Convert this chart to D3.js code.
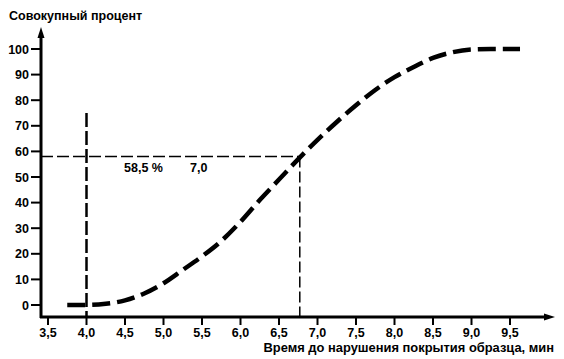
<!DOCTYPE html>
<html><head><meta charset="utf-8">
<script src="https://cdn.jsdelivr.net/npm/d3@7"></script>
<style>
html,body{margin:0;padding:0;background:#fff;}
text{font-family:"Liberation Sans",Arial,sans-serif;fill:#000;font-weight:bold;}
</style>
</head><body>
<svg id="c" width="564" height="359"></svg>
<script>
const xTicks = [3.5,4.0,4.5,5.0,5.5,6.0,6.5,7.0,7.5,8.0,8.5,9.0,9.5];
const yTicks = [0,10,20,30,40,50,60,70,80,90,100];
const curveX = [3.75,4.0,4.25,4.5,4.75,5.0,5.25,5.5,5.75,6.0,6.25,6.5,6.75,7.0,7.25,7.5,7.75,8.0,8.25,8.5,8.75,9.0,9.25,9.63];
const curveY = [0,0,0.5,1.8,4.5,8.5,13.7,19,25,32.5,41,49,57,64.5,71.5,78,84,89,93,96.5,98.7,99.8,100,100];
const refStartX = 4.0, refStartTop = 75;
const refPct = 58, refTime = 6.77;
const annotations = ["58,5 %", "7,0"];
const yTitle = "Совокупный процент";
const xTitle = "Время до нарушения покрытия образца, мин";

const svg = d3.select("#c");
const x = d3.scaleLinear().domain([3.5, 9.5]).range([48, 510]);
const y = d3.scaleLinear().domain([0, 100]).range([305, 49]);
const axisX = 41, axisY = 317;

// axes lines
svg.append("line").attr("x1", axisX).attr("x2", axisX).attr("y1", axisY+1).attr("y2", 36)
  .attr("stroke", "#000").attr("stroke-width", 3);
svg.append("path").attr("d", `M${axisX-3.5},38 L${axisX},27 L${axisX+3.5},38 Z`).attr("fill", "#000");
svg.append("line").attr("x1", axisX-1).attr("x2", 546).attr("y1", axisY).attr("y2", axisY)
  .attr("stroke", "#000").attr("stroke-width", 3);
svg.append("path").attr("d", `M544,${axisY-3.5} L555,${axisY} L544,${axisY+3.5} Z`).attr("fill", "#000");

// y ticks
const yg = svg.append("g");
yTicks.forEach(v => {
  yg.append("line").attr("x1", 31).attr("x2", axisX).attr("y1", y(v)).attr("y2", y(v))
    .attr("stroke", "#000").attr("stroke-width", 2);
  yg.append("text").attr("x", 29).attr("y", y(v)).attr("dy", "0.36em")
    .attr("text-anchor", "end").attr("font-size", 12.5).text(v);
});
// x ticks
const xg = svg.append("g");
xTicks.forEach(v => {
  xg.append("line").attr("x1", x(v)).attr("x2", x(v)).attr("y1", axisY).attr("y2", axisY+8)
    .attr("stroke", "#000").attr("stroke-width", 2);
  xg.append("text").attr("x", x(v)).attr("y", 337)
    .attr("text-anchor", "middle").attr("font-size", 12.5).text(d3.format(".1f")(v).replace(".", ","));
});

// titles
svg.append("text").attr("x", 9).attr("y", 20).attr("font-size", 12.5).text(yTitle);
svg.append("text").attr("x", 554).attr("y", 352).attr("text-anchor", "end").attr("font-size", 12.9).text(xTitle);

// reference lines
svg.append("line").attr("x1", x(refStartX)).attr("x2", x(refStartX)).attr("y1", y(refStartTop)).attr("y2", axisY)
  .attr("stroke", "#000").attr("stroke-width", 2.5).attr("stroke-dasharray", "14,4");
svg.append("line").attr("x1", axisX).attr("x2", x(refTime)).attr("y1", y(refPct)).attr("y2", y(refPct))
  .attr("stroke", "#000").attr("stroke-width", 1.6).attr("stroke-dasharray", "12,4");
svg.append("line").attr("x1", x(refTime)).attr("x2", x(refTime)).attr("y1", y(refPct)).attr("y2", axisY)
  .attr("stroke", "#000").attr("stroke-width", 1.5).attr("stroke-dasharray", "11,4");

// annotations
svg.append("text").attr("x", 124).attr("y", 172).attr("font-size", 12.5).text(annotations[0]);
svg.append("text").attr("x", 190).attr("y", 172).attr("font-size", 12.5).text(annotations[1]);

// curve
const pts = curveX.map((v, i) => [v, curveY[i]]);
const line = d3.line().x(d => x(d[0])).y(d => y(d[1])).curve(d3.curveMonotoneX);
svg.append("path").attr("d", line(pts)).attr("fill", "none").attr("stroke", "#000")
  .attr("stroke-width", 4.5).attr("stroke-dasharray", "18,7");
</script>
</body></html>
